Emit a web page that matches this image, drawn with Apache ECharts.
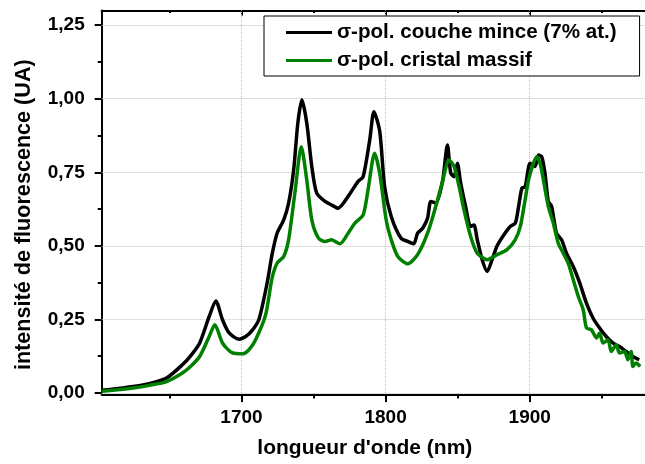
<!DOCTYPE html>
<html><head><meta charset="utf-8">
<script src="https://cdn.jsdelivr.net/npm/echarts@6/dist/echarts.min.js"></script>
<style>html,body{margin:0;padding:0;background:#fff}#c{width:645px;height:464px}</style>
</head><body><div id="c"></div>
<script>
// ---- data ----
const seriesNames = ['σ-pol. couche mince (7% at.)', 'σ-pol. cristal massif'];

const thinWavelength = [1603, 1614, 1625, 1636, 1648, 1659, 1665, 1671, 1677.6, 1682.2, 1686.8, 1691.4, 1698.3, 1702.9, 1707, 1712.1, 1717.8, 1721.2, 1724.7, 1729.3, 1732.7, 1736.2, 1739.1, 1741.9, 1745.3, 1748.8, 1752.2, 1758.0, 1762.5, 1767.1, 1774.0, 1780.9, 1784.4, 1789.0, 1791.9, 1795.9, 1799.3, 1803.9, 1810.7, 1815.4, 1819.5, 1822.2, 1825.7, 1829.1, 1831.4, 1834.8, 1839.5, 1842.9, 1845.2, 1847.5, 1849.8, 1852.1, 1855.5, 1859.0, 1861.3, 1863.6, 1867.0, 1870.5, 1873.9, 1877.4, 1882.0, 1886.5, 1890.0, 1892.3, 1894.6, 1896.8, 1900.3, 1903.7, 1906.1, 1908.3, 1910.6, 1912.9, 1915.2, 1918.6, 1922.1, 1925.5, 1930.2, 1934.7, 1939.3, 1943.9, 1948.5, 1953.1, 1957.7, 1962.3, 1966.9, 1971.5, 1976.0];
const thinIntensity = [0.009, 0.015, 0.022, 0.032, 0.051, 0.096, 0.128, 0.17, 0.26, 0.313, 0.249, 0.204, 0.183, 0.192, 0.21, 0.25, 0.374, 0.47, 0.543, 0.588, 0.645, 0.758, 0.917, 0.996, 0.917, 0.769, 0.679, 0.651, 0.639, 0.628, 0.668, 0.719, 0.735, 0.86, 0.956, 0.89, 0.702, 0.6, 0.526, 0.515, 0.507, 0.543, 0.56, 0.594, 0.651, 0.645, 0.719, 0.843, 0.747, 0.735, 0.781, 0.713, 0.634, 0.566, 0.571, 0.521, 0.453, 0.413, 0.453, 0.5, 0.537, 0.566, 0.577, 0.634, 0.696, 0.70, 0.781, 0.77, 0.809, 0.803, 0.747, 0.651, 0.634, 0.543, 0.521, 0.475, 0.43, 0.374, 0.306, 0.255, 0.221, 0.192, 0.17, 0.158, 0.141, 0.124, 0.113];

const bulkWavelength = [1603, 1614, 1625, 1636, 1648, 1659, 1665, 1671, 1677.6, 1681.5, 1686.8, 1693.7, 1700.6, 1705.2, 1709.8, 1716.7, 1721.2, 1724.7, 1729.3, 1732.7, 1737.3, 1741.5, 1745.3, 1748.8, 1753.4, 1758.0, 1762.5, 1768.3, 1774.0, 1778.7, 1784.4, 1787.8, 1792.4, 1795.9, 1800.4, 1803.9, 1808.5, 1815.4, 1822.2, 1829.1, 1834.8, 1839.5, 1844.1, 1847.5, 1851.0, 1854.4, 1859.0, 1863.6, 1870.5, 1877.4, 1884.3, 1890.0, 1893.5, 1896.8, 1899.2, 1902.6, 1904.9, 1907.2, 1909.5, 1912.9, 1916.4, 1919.8, 1923.3, 1926.7, 1930.2, 1933.7, 1937.1, 1939.4, 1942.8, 1946.3, 1948.5, 1950.9, 1954.3, 1956.6, 1960.0, 1962.3, 1965.8, 1968.1, 1970.4, 1971.6, 1973.8, 1976.6];
const bulkIntensity = [0.006, 0.011, 0.017, 0.026, 0.039, 0.068, 0.092, 0.124, 0.192, 0.232, 0.17, 0.136, 0.133, 0.147, 0.181, 0.265, 0.39, 0.441, 0.464, 0.521, 0.69, 0.837, 0.724, 0.588, 0.526, 0.515, 0.521, 0.507, 0.543, 0.577, 0.605, 0.69, 0.815, 0.747, 0.588, 0.521, 0.464, 0.439, 0.47, 0.543, 0.634, 0.719, 0.792, 0.77, 0.702, 0.622, 0.532, 0.475, 0.453, 0.47, 0.487, 0.521, 0.566, 0.656, 0.724, 0.781, 0.803, 0.781, 0.724, 0.634, 0.577, 0.509, 0.475, 0.441, 0.385, 0.328, 0.283, 0.221, 0.215, 0.187, 0.204, 0.17, 0.181, 0.141, 0.164, 0.136, 0.141, 0.113, 0.141, 0.09, 0.102, 0.09];

const xMajorTicks = [1700, 1800, 1900];
const xMinorTicks = [1650, 1750, 1850, 1950];
const yMajorTicks = [0, 0.25, 0.5, 0.75, 1.0, 1.25];
const yMinorTicks = [0.125, 0.375, 0.625, 0.875, 1.125];

const X_MIN = 1603, X_MAX = 1980, Y_MIN = 0, Y_MAX = 1.3;
const FONT = "'Liberation Sans', Arial, Helvetica, sans-serif";

const pairs = (xs, ys) => xs.map((x, i) => [x, ys[i]]);

const baseAxis = {type: 'value', min: X_MIN, max: X_MAX, splitLine: {show: false}, axisLabel: {show: false}};
const tickStyle = {color: '#000', width: 2};

const chart = echarts.init(document.getElementById('c'), null, {renderer: 'canvas'});
chart.setOption({
  animation: false,
  backgroundColor: '#fff',
  grid: {left: 101.7, top: 10.4, width: 547.4, height: 382.9, containLabel: false},
  legend: {
    show: true, orient: 'vertical', left: 264, top: 16,
    data: seriesNames, icon: 'rect', itemWidth: 46, itemHeight: 3, itemGap: 7,
    padding: [6, 23, 5, 22], borderColor: '#000', borderWidth: 1, backgroundColor: '#fff',
    textStyle: {fontSize: 20.6, fontWeight: 'bold', color: '#000', fontFamily: FONT},
    z: 10
  },
  xAxis: [
    Object.assign({}, baseAxis, {
      position: 'bottom', offset: 2,
      axisLine: {show: true, onZero: false, lineStyle: {color: '#000', width: 2}},
      axisTick: {show: true, inside: false, length: 7, customValues: xMajorTicks, lineStyle: tickStyle},
      axisLabel: {show: true, customValues: xMajorTicks, margin: 13, fontSize: 19, fontWeight: 'bold', color: '#000', fontFamily: FONT,
        formatter: v => String(v)},
      name: "longueur d'onde (nm)", nameLocation: 'middle', nameGap: 43,
      nameTextStyle: {fontSize: 21, fontWeight: 'bold', color: '#000', fontFamily: FONT, padding: [0, 17, 0, 0]}
    }),
    Object.assign({}, baseAxis, {
      position: 'bottom', offset: 2,
      axisLine: {show: false, onZero: false},
      axisTick: {show: true, inside: false, length: 3.5, customValues: xMinorTicks, lineStyle: tickStyle}
    }),
    Object.assign({}, baseAxis, {
      position: 'top',
      axisLine: {show: true, onZero: false, lineStyle: {color: '#000', width: 2}},
      axisTick: {show: true, inside: true, length: 5, customValues: xMajorTicks, lineStyle: tickStyle}
    }),
    Object.assign({}, baseAxis, {
      position: 'top',
      axisLine: {show: false, onZero: false},
      axisTick: {show: true, inside: true, length: 2.5, customValues: xMinorTicks, lineStyle: tickStyle}
    })
  ],
  yAxis: [
    {
      type: 'value', min: Y_MIN, max: Y_MAX, position: 'left',
      axisLine: {show: true, onZero: false, lineStyle: {color: '#000', width: 2}},
      axisTick: {show: true, inside: false, length: 7, customValues: yMajorTicks, lineStyle: tickStyle},
      axisLabel: {show: true, customValues: yMajorTicks, margin: 17, fontSize: 19, fontWeight: 'bold', color: '#000', fontFamily: FONT,
        formatter: v => v.toFixed(2).replace('.', ',')},
      splitLine: {show: false},
      name: 'intensité de fluorescence (UA)', nameLocation: 'middle', nameGap: 67,
      nameTextStyle: {fontSize: 21.6, fontWeight: 'bold', color: '#000', fontFamily: FONT, padding: [0, 26, 0, 0]}
    },
    {
      type: 'value', min: Y_MIN, max: Y_MAX, position: 'left',
      axisLine: {show: false, onZero: false},
      axisTick: {show: true, inside: false, length: 4, customValues: yMinorTicks, lineStyle: tickStyle},
      axisLabel: {show: false}, splitLine: {show: false}
    }
  ],
  series: [
    {
      name: seriesNames[0], type: 'line', xAxisIndex: 0, yAxisIndex: 0,
      data: pairs(thinWavelength, thinIntensity), symbol: 'none', smooth: 0.25, z: 3,
      lineStyle: {color: '#000', width: 3.5}, itemStyle: {color: '#000'},
      markLine: {
        silent: true, symbol: ['none', 'none'], label: {show: false}, z: 1, animation: false,
        lineStyle: {color: '#bdbdbd', width: 1, type: [1, 1]},
        emphasis: {disabled: true},
        data: yMajorTicks.map(v => ({yAxis: v})).concat(xMajorTicks.map(v => ({xAxis: v})))
      }
    },
    {
      name: seriesNames[1], type: 'line', xAxisIndex: 0, yAxisIndex: 0,
      data: pairs(bulkWavelength, bulkIntensity), symbol: 'none', smooth: 0.25, z: 4,
      lineStyle: {color: '#008000', width: 3.5}, itemStyle: {color: '#008000'}
    }
  ]
});
</script>
</body></html>
